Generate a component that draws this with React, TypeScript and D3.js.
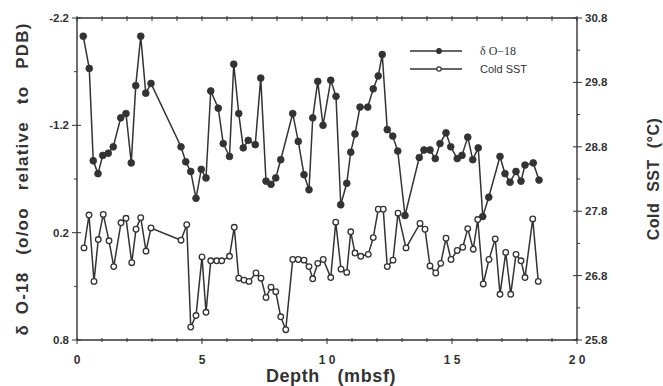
import React from 'react';
import * as d3 from 'd3';

// δO-18 series (depth in mbsf, value in o/oo relative to PDB)
const depthO18 = [0.25,0.49,0.65,0.84,1.03,1.25,1.45,1.75,1.96,2.17,2.35,2.55,2.75,2.96,4.16,4.35,4.55,4.76,4.97,5.16,5.35,5.65,5.85,6.1,6.27,6.47,6.65,6.85,7.13,7.35,7.56,7.76,7.95,8.15,8.63,8.85,9.08,9.28,9.43,9.63,9.84,10.15,10.36,10.55,10.79,10.95,11.12,11.32,11.63,11.85,12.05,12.21,12.41,12.63,12.83,13.12,13.69,13.88,14.12,14.33,14.52,14.76,14.95,15.21,15.4,15.63,15.83,16.05,16.23,16.47,16.92,17.12,17.32,17.56,17.76,17.92,18.25,18.48];
const o18 = [-2.03,-1.73,-0.87,-0.75,-0.92,-0.94,-1.0,-1.27,-1.31,-0.85,-1.57,-2.03,-1.5,-1.59,-1.0,-0.86,-0.77,-0.52,-0.79,-0.71,-1.52,-1.36,-1.03,-0.91,-1.77,-1.31,-0.99,-1.06,-1.02,-1.64,-0.68,-0.65,-0.71,-0.88,-1.31,-1.05,-0.74,-0.6,-1.27,-1.61,-1.2,-1.62,-1.47,-0.46,-0.66,-0.95,-1.12,-1.37,-1.37,-1.54,-1.66,-1.86,-1.16,-1.1,-0.96,-0.36,-0.9,-0.97,-0.97,-0.89,-1.03,-1.13,-1.0,-0.89,-0.92,-1.09,-0.88,-0.99,-0.35,-0.53,-0.91,-0.75,-0.67,-0.77,-0.68,-0.83,-0.85,-0.69];

// Cold SST series (depth in mbsf, °C)
const depthSST = [0.28,0.48,0.68,0.85,1.05,1.28,1.47,1.76,1.96,2.19,2.36,2.55,2.76,2.96,4.16,4.39,4.55,4.76,5.0,5.16,5.35,5.59,5.79,6.1,6.29,6.47,6.68,6.88,7.16,7.36,7.56,7.76,7.95,8.15,8.35,8.63,8.85,9.08,9.28,9.43,9.63,9.85,10.15,10.35,10.56,10.79,10.95,11.12,11.35,11.65,11.85,12.05,12.25,12.41,12.64,12.84,13.16,13.72,13.92,14.12,14.35,14.55,14.76,14.96,15.21,15.43,15.63,15.85,16.03,16.25,16.48,16.73,16.92,17.15,17.35,17.56,17.76,17.92,18.23,18.45];
const sst = [27.23,27.74,26.71,27.36,27.75,27.34,26.94,27.62,27.69,27.0,27.52,27.7,27.18,27.54,27.35,27.59,26.0,26.18,27.09,26.23,27.03,27.03,27.03,27.1,27.55,26.76,26.73,26.71,26.84,26.76,26.46,26.62,26.55,26.16,25.96,27.05,27.05,27.04,26.94,26.75,26.99,27.05,26.77,27.63,26.9,26.85,27.48,27.15,27.1,27.13,27.39,27.83,27.83,26.94,27.04,27.77,27.23,27.61,27.52,26.95,26.84,26.99,27.38,27.05,27.19,27.24,27.53,27.21,27.67,26.67,27.05,27.37,26.51,27.16,26.51,27.13,27.03,26.77,27.68,26.71];

const xTicks = [0, 5, 10, 15, 20];
const xTickLabels = ['0', '5', '1 0', '1 5', '2 0'];
const leftTicks = [-2.2, -1.2, -0.2, 0.8];
const leftTickLabels = ['-2.2', '-1.2', '0.2', '0.8'];
const rightTicks = [30.8, 29.8, 28.8, 27.8, 26.8, 25.8];
const rightTickLabels = ['30.8', '29.8', '28.8', '27.8', '26.8', '25.8'];
const legendLabels = ['\u03B4 O\u221218', 'Cold SST'];

const INK = '#333';

export default function App() {
  const W = 663, H = 386;
  const L = 77, R = 577, T = 18, B = 340;
  const x = d3.scaleLinear().domain([0, 20]).range([L, R]);
  const yL = d3.scaleLinear().domain([-2.2, 0.8]).range([T, B]);
  const yR = d3.scaleLinear().domain([25.8, 30.8]).range([B, T]);

  const o18Pts = depthO18.map((d, i) => [x(d), yL(o18[i])] as [number, number]);
  const sstPts = depthSST.map((d, i) => [x(d), yR(sst[i])] as [number, number]);
  const lineGen = d3.line<[number, number]>();

  const xMinor = d3.range(0, 21, 1);
  const leftMinor = d3.range(0, 7).map(i => -2.2 + i * 0.5);
  const rightMinor = d3.range(0, 11).map(i => 25.8 + i * 0.5);

  const sans = '"Liberation Sans", Arial, sans-serif';
  const tickFont = { fontFamily: sans, fontWeight: 700, fontSize: 11.5, fill: INK } as const;
  const titleFont = { fontFamily: sans, fontWeight: 700, fontSize: 16, fill: INK } as const;

  return (
    <svg width={W} height={H} style={{ position: 'absolute', left: 0, top: 0, background: '#fff' }}>
      <rect x={0} y={0} width={W} height={H} fill="#fff" />
      {/* frame */}
      <g stroke={INK} strokeWidth={1.4} fill="none">
        <line x1={L} y1={T} x2={R} y2={T} />
        <line x1={L} y1={B} x2={R} y2={B} />
        <line x1={L} y1={T} x2={L} y2={B} />
        <line x1={R} y1={T} x2={R} y2={B} />
      </g>
      {/* x ticks */}
      <g stroke={INK} strokeWidth={1}>
        {xMinor.map(v => (
          <g key={'xm' + v}>
            <line x1={x(v)} x2={x(v)} y1={B - 2} y2={B + (v % 5 === 0 ? 4 : 2)} />
            <line x1={x(v)} x2={x(v)} y1={T - 2} y2={T + 3} />
          </g>
        ))}
      </g>
      {/* y ticks */}
      <g stroke={INK} strokeWidth={1}>
        {leftMinor.map((v, i) => (
          <line key={'lm' + i} x1={L - (i % 2 === 0 ? 5 : 3)} x2={L + (i % 2 === 0 ? 4 : 0)} y1={yL(v)} y2={yL(v)} />
        ))}
        {rightMinor.map((v, i) => (
          <line key={'rm' + i} x1={R - (i % 2 === 0 ? 4 : 0)} x2={R + (i % 2 === 0 ? 5 : 3)} y1={yR(v)} y2={yR(v)} />
        ))}
      </g>
      {/* tick labels */}
      {xTicks.map((v, i) => (
        <text key={'xt' + i} x={x(v)} y={364} textAnchor="middle" style={{ ...tickFont, fontSize: 12 }}>{xTickLabels[i]}</text>
      ))}
      {leftTicks.map((v, i) => (
        <text key={'lt' + i} x={69} y={yL(v) + 4} textAnchor="end" style={tickFont}>{leftTickLabels[i]}</text>
      ))}
      {rightTicks.map((v, i) => (
        <text key={'rt' + i} x={585} y={yR(v) + 4} textAnchor="start" style={tickFont}>{rightTickLabels[i]}</text>
      ))}
      {/* axis titles */}
      <text x={331} y={382} textAnchor="middle" style={{ ...titleFont, fontSize: 18, letterSpacing: 0.6, wordSpacing: 12 }}>Depth (mbsf)</text>
      <text transform={`translate(28,${(T + B) / 2}) rotate(-90)`} textAnchor="middle" style={{ ...titleFont, fontSize: 17, letterSpacing: 1.2, wordSpacing: 11 }}>{'δ\u2002O-18 (o/oo relative to PDB)'}</text>
      <text transform={`translate(659,${(T + B) / 2}) rotate(-90)`} textAnchor="middle" style={{ ...titleFont, letterSpacing: 0.5, wordSpacing: 6 }}>Cold SST (°C)</text>
      {/* series */}
      <path d={lineGen(o18Pts) || ''} fill="none" stroke={INK} strokeWidth={1.5} />
      <path d={lineGen(sstPts) || ''} fill="none" stroke={INK} strokeWidth={1.5} />
      {o18Pts.map((p, i) => (
        <circle key={'o' + i} cx={p[0]} cy={p[1]} r={3.4} fill={INK} stroke={INK} strokeWidth={0.8} />
      ))}
      {sstPts.map((p, i) => (
        <circle key={'s' + i} cx={p[0]} cy={p[1]} r={2.8} fill="#fff" stroke={INK} strokeWidth={1.3} />
      ))}
      {/* legend */}
      <g>
        <line x1={410} x2={462} y1={51} y2={51} stroke={INK} strokeWidth={1.5} />
        <circle cx={439} cy={51} r={2.6} fill={INK} stroke={INK} />
        <text x={480} y={55} style={{ fontFamily: '"Liberation Serif", "Times New Roman", serif', fontSize: 12, fill: INK }}>{legendLabels[0]}</text>
        <line x1={410} x2={462} y1={69} y2={69} stroke={INK} strokeWidth={1.5} />
        <circle cx={439} cy={69} r={2.2} fill="#fff" stroke={INK} strokeWidth={1.2} />
        <text x={480} y={73} style={{ fontFamily: sans, fontSize: 11, fill: INK }}>{legendLabels[1]}</text>
      </g>
    </svg>
  );
}
